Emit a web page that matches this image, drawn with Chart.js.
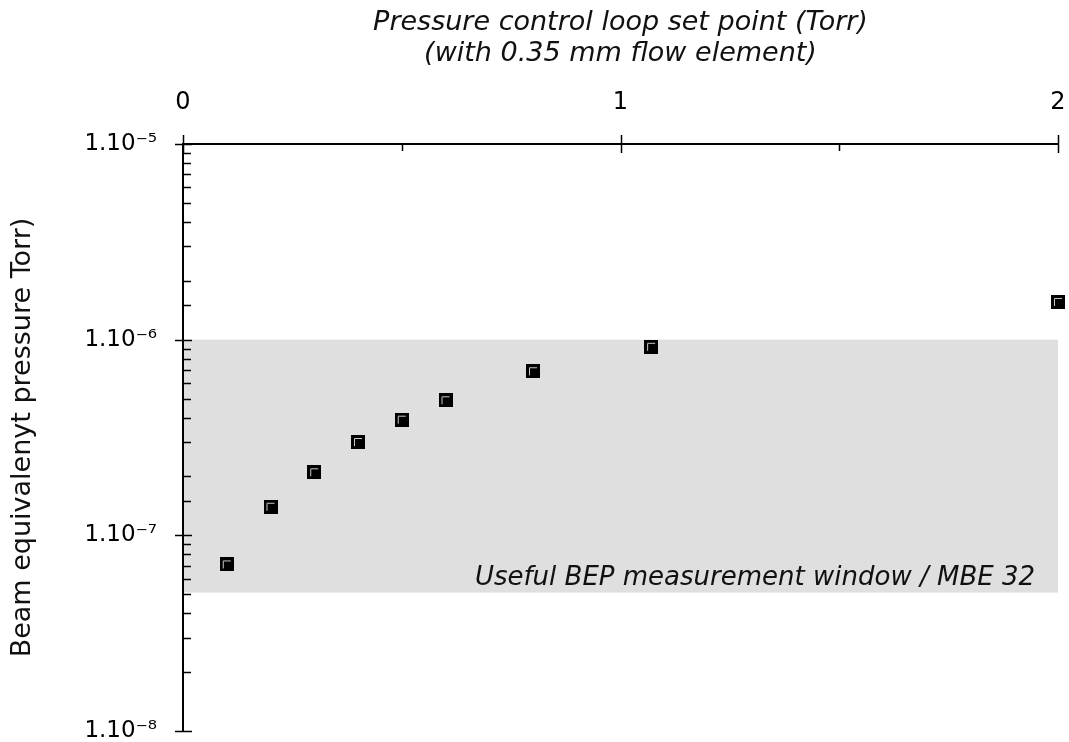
<!DOCTYPE html>
<html>
<head>
<meta charset="utf-8">
<script src="https://cdn.jsdelivr.net/npm/chart.js@4.4.0/dist/chart.umd.min.js"></script>
<style>
  html, body { margin: 0; padding: 0; background: #fff; overflow: hidden; }
  canvas { display: block; }
</style>
</head>
<body>
<canvas id="bepChart" width="1069" height="742"></canvas>
<script>
const setPoints = [0.1, 0.2, 0.3, 0.4, 0.5, 0.6, 0.8, 1.07, 2.0];
const bepValues = [7.1e-8, 1.4e-7, 2.1e-7, 3.0e-7, 3.9e-7, 4.9e-7, 6.9e-7, 9.2e-7, 1.56e-6];
const xTickLabels = ['0', '1', '2'];
const yTickLabels = ['1.10⁻⁸', '1.10⁻⁷', '1.10⁻⁶', '1.10⁻⁵'];
const windowRange = [5.1e-8, 1e-6];
const windowLabel = 'Useful BEP measurement window / MBE 32';
const xTitle = ['Pressure control loop set point (Torr)', '(with 0.35 mm flow element)'];
const yTitle = 'Beam equivalenyt pressure Torr)';

const FONT = 'DejaVu Sans';

// square marker with a light bevel on the top/left edge
const marker = document.createElement('canvas');
marker.width = 14;
marker.height = 14;
(() => {
  const m = marker.getContext('2d');
  m.fillStyle = '#000';
  m.fillRect(0, 0, 14, 14);
  m.strokeStyle = '#c8c8c8';
  m.lineWidth = 1;
  m.beginPath();
  m.moveTo(3.5, 11);
  m.lineTo(3.5, 3.5);
  m.lineTo(11, 3.5);
  m.stroke();
})();

const isDecade = v => Math.abs(Math.log10(v) - Math.round(Math.log10(v))) < 1e-6;

// keep the plot box fixed: no extra room for edge tick labels
const noEdgePadding = s => {
  s.paddingLeft = 0;
  s.paddingRight = 0;
  s.paddingTop = 0;
  s.paddingBottom = 0;
};

const windowPlugin = {
  id: 'bepWindow',
  beforeDatasetsDraw(chart) {
    const { ctx, scales: { x, y } } = chart;
    const top = y.getPixelForValue(windowRange[1]);
    const bottom = y.getPixelForValue(windowRange[0]);
    ctx.save();
    ctx.fillStyle = '#dfdfdf';
    ctx.fillRect(x.left + 1, top, x.right - x.left - 1, bottom - top);
    ctx.fillStyle = '#111';
    ctx.font = 'italic 26px "' + FONT + '"';
    ctx.textAlign = 'right';
    ctx.textBaseline = 'alphabetic';
    ctx.fillText(windowLabel, x.right - 23, bottom - 8);
    ctx.restore();
  }
};

const axesPlugin = {
  id: 'bepAxes',
  afterDraw(chart) {
    const { ctx, scales: { x, y } } = chart;
    const ax = x.getPixelForValue(0);
    const ay = y.getPixelForValue(1e-5);
    ctx.save();
    ctx.strokeStyle = '#000';
    ctx.lineWidth = 2;
    ctx.beginPath();
    ctx.moveTo(ax, y.bottom);
    ctx.lineTo(ax, ay);
    ctx.lineTo(x.right, ay);
    ctx.stroke();

    ctx.lineWidth = 1.5;
    ctx.beginPath();
    y.ticks.forEach(t => {
      const py = Math.round(y.getPixelForValue(t.value)) + 0.5;
      if (isDecade(t.value)) {
        ctx.moveTo(ax - 8, py);
        ctx.lineTo(ax + 9, py);
      } else {
        ctx.moveTo(ax, py);
        ctx.lineTo(ax + 8, py);
      }
    });
    x.ticks.forEach(t => {
      const px = Math.round(x.getPixelForValue(t.value)) + 0.5;
      if (Number.isInteger(t.value)) {
        ctx.moveTo(px, ay - 9);
        ctx.lineTo(px, ay + 9);
      } else {
        ctx.moveTo(px, ay);
        ctx.lineTo(px, ay + 7);
      }
    });
    ctx.stroke();
    ctx.restore();
  }
};

new Chart(document.getElementById('bepChart'), {
  type: 'scatter',
  data: {
    datasets: [{
      data: setPoints.map((v, i) => ({ x: v, y: bepValues[i] })),
      pointStyle: marker,
      pointRadius: 7,
      clip: false
    }]
  },
  options: {
    responsive: false,
    animation: false,
    layout: { padding: { left: 0, right: 11, top: 0, bottom: 11 } },
    plugins: { legend: { display: false }, tooltip: { enabled: false } },
    scales: {
      x: {
        type: 'linear',
        position: 'top',
        min: 0,
        max: 2,
        border: { display: false },
        grid: { display: false, drawTicks: false },
        ticks: {
          stepSize: 0.5,
          autoSkip: false,
          maxRotation: 0,
          padding: 27,
          color: '#000',
          font: { family: FONT, size: 24 },
          callback: v => Number.isInteger(v) ? xTickLabels[v] : ''
        },
        title: {
          display: true,
          text: xTitle,
          color: '#111',
          padding: { top: 7, bottom: 0 },
          font: { family: FONT, size: 27, style: 'italic', lineHeight: 1.16 }
        },
        afterFit: s => { s.height = 144; noEdgePadding(s); }
      },
      y: {
        type: 'logarithmic',
        min: 1e-8,
        max: 1e-5,
        border: { display: false },
        grid: { display: false, drawTicks: false },
        ticks: {
          autoSkip: false,
          padding: 26,
          color: '#000',
          font: { family: FONT, size: 23 },
          callback: v => isDecade(v) ? yTickLabels[Math.round(Math.log10(v)) + 8] : ''
        },
        title: {
          display: true,
          text: yTitle,
          color: '#111',
          padding: { top: 7, bottom: 0 },
          font: { family: FONT, size: 27 }
        },
        afterFit: s => { s.width = 183; noEdgePadding(s); }
      }
    }
  },
  plugins: [windowPlugin, axesPlugin]
});
</script>
</body>
</html>
